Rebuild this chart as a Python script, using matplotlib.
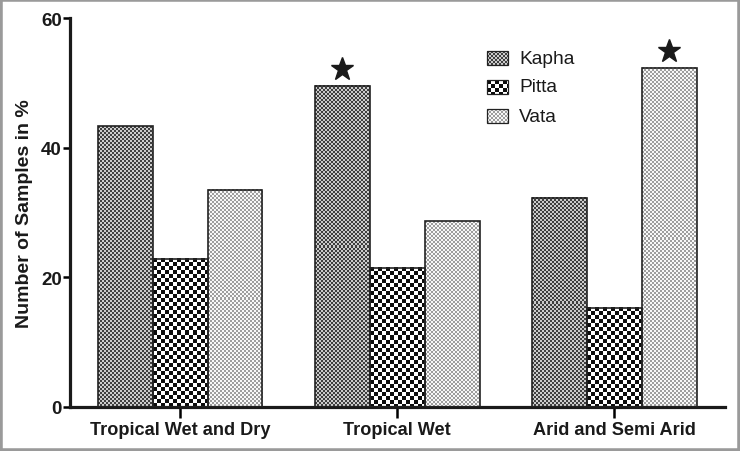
import numpy as np
import matplotlib
matplotlib.use("Agg")
import matplotlib.pyplot as plt
from matplotlib.patches import Rectangle

# data
regions = ["Tropical Wet and Dry", "Tropical Wet", "Arid and Semi Arid"]
series = ["Kapha", "Pitta", "Vata"]
kapha = [43.3, 49.6, 32.3]
pitta = [22.9, 21.5, 15.3]
vata = [33.5, 28.7, 52.4]
# bars marked with a star: (series index, region index)
starred = [(0, 1), (2, 2)]
yticks = [0, 20, 40, 60]

values = [kapha, pitta, vata]

plt.rcParams["font.family"] = ["Liberation Sans", "DejaVu Sans"]


def texture(kind, w, h):
    w, h = max(int(round(w)), 1), max(int(round(h)), 1)
    i, j = np.mgrid[0:h, 0:w]
    if kind == 0:
        # fine grey checker
        arr = np.where(((i // 2) + (j // 2)) % 2 == 0, 0.25, 0.8)
    elif kind == 1:
        # coarse black/white checker
        arr = np.where(((i // 4) + (j // 4)) % 2 == 0, 0.05, 1.0)
    else:
        # light dotted
        arr = np.where(((i // 2) + (j // 2)) % 2 == 0, 0.62, 0.97)
    return arr


fig = plt.figure(figsize=(7.4, 4.52), dpi=100)
ax = fig.add_axes([70 / 740, 44 / 452, 655 / 740, 388.7 / 452])

x = np.arange(len(regions))
width = 0.253
ax.set_xlim(-0.507, 2.51)
ax.set_ylim(0, 60)

ppx = ax.transData.transform((1, 0))[0] - ax.transData.transform((0, 0))[0]
ppy = ax.transData.transform((0, 1))[1] - ax.transData.transform((0, 0))[1]

for k, vals in enumerate(values):
    pos = x + (k - 1) * width
    bars = ax.bar(pos, vals, width, facecolor="none", edgecolor="#222222",
                  linewidth=1.2, zorder=3)
    for b in bars:
        x0, w, h = b.get_x(), b.get_width(), b.get_height()
        ax.imshow(texture(k, w * ppx, h * ppy), cmap="gray", vmin=0, vmax=1,
                  extent=(x0, x0 + w, 0, h), aspect="auto",
                  interpolation="nearest", zorder=2)

for k, g in starred:
    ax.plot(x[g] + (k - 1) * width, values[k][g] + 2.5, marker="*",
            markersize=17, color="#1a1a1a", linestyle="none", zorder=4)

ax.set_xlim(-0.507, 2.51)
ax.set_ylim(0, 60)
ax.set_xticks(x)
ax.set_xticklabels(regions, fontweight="bold", fontsize=13.1, color="#1a1a1a")
ax.set_yticks(yticks)
ax.set_yticklabels([str(t) for t in yticks], fontweight="bold", fontsize=13.5,
                   color="#1a1a1a")
ax.tick_params(axis="y", direction="out", length=5, width=1.8, pad=1)
ax.tick_params(axis="x", direction="out", length=8, width=1.8, pad=2)
ax.set_ylabel("Number of Samples in %", fontweight="bold", fontsize=14,
              color="#1a1a1a", labelpad=6)
for s in ["top", "right"]:
    ax.spines[s].set_visible(False)
for s in ["left", "bottom"]:
    ax.spines[s].set_linewidth(2.3)
    ax.spines[s].set_color("#1a1a1a")

# legend drawn in pixel coordinates on an overlay
ov = fig.add_axes([0, 0, 1, 1], zorder=5)
ov.set_xlim(0, 740)
ov.set_ylim(452, 0)
ov.axis("off")
for k, name in enumerate(series):
    top = 52 + k * 29
    ov.imshow(texture(k, 21, 14), cmap="gray", vmin=0, vmax=1,
              extent=(487, 508, top + 14, top), aspect="auto",
              interpolation="nearest")
    ov.add_patch(Rectangle((487, top), 21, 14, fill=False,
                           edgecolor="#222222", linewidth=0.9))
    ov.text(519, top + 7, name, fontsize=13.8, va="center", ha="left",
            color="#1a1a1a")
ov.set_xlim(0, 740)
ov.set_ylim(452, 0)

fig.add_artist(Rectangle((0, 0), 1, 1, transform=fig.transFigure, fill=False,
                         edgecolor="#9a9a9a", linewidth=4))

fig.savefig("out.png", dpi=100)
